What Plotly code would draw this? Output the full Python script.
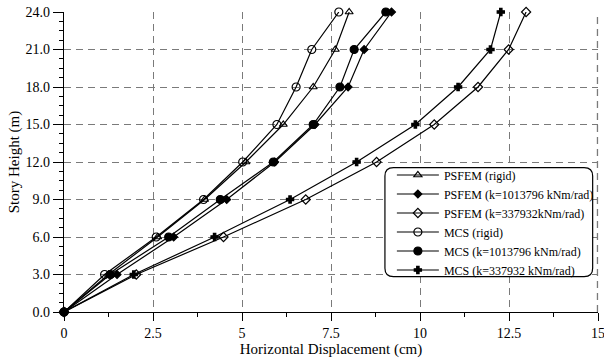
import plotly.graph_objects as go

heights = [0, 3, 6, 9, 12, 15, 18, 21, 24]
psfem_rigid = [0, 1.25, 2.63, 3.95, 5.11, 6.16, 7.00, 7.62, 8.01]
psfem_k1 = [0, 1.49, 3.08, 4.57, 5.92, 7.05, 7.98, 8.43, 9.20]
psfem_k2 = [0, 2.03, 4.48, 6.79, 8.78, 10.40, 11.63, 12.49, 12.98]
mcs_rigid = [0, 1.14, 2.59, 3.92, 5.02, 5.98, 6.52, 6.96, 7.72]
mcs_k1 = [0, 1.30, 2.94, 4.39, 5.88, 7.00, 7.75, 8.15, 9.04]
mcs_k2 = [0, 1.96, 4.23, 6.35, 8.22, 9.87, 11.07, 11.98, 12.27]
x_ticks = [0, 2.5, 5, 7.5, 10, 12.5, 15]
x_labels = ["0", "2.5", "5", "7.5", "10", "12.5", "15"]

names = ["PSFEM (rigid)", "PSFEM (k=1013796 kNm/rad)", "PSFEM (k=337932kNm/rad)",
         "MCS (rigid)", "MCS (k=1013796 kNm/rad)", "MCS (k=337932 kNm/rad)"]
series = [psfem_rigid, psfem_k1, psfem_k2, mcs_rigid, mcs_k1, mcs_k2]
symbols = ["triangle-up-open", "diamond", "diamond-open", "circle-open", "circle", "cross"]
sizes = [7, 6, 7, 8, 8, 6]

FONT = "Liberation Serif, Times New Roman, Tinos, serif"
fig = go.Figure()
for n, s, sym, sz in zip(names, series, symbols, sizes):
    fig.add_trace(go.Scatter(
        x=s, y=heights, name=n, mode="lines+markers",
        line=dict(color="black", width=1.2),
        marker=dict(symbol=sym, size=sz, color="black",
                    line=dict(color="black", width=1.2)),
        cliponaxis=False,
    ))

x0, x1 = 0.601, 0.990
y0, y1 = 0.118, 0.481
rx, ry = 0.016, 0.028
path = (f"M {x0+rx},{y1} L {x1-rx},{y1} Q {x1},{y1} {x1},{y1-ry} "
        f"L {x1},{y0+ry} Q {x1},{y0} {x1-rx},{y0} L {x0+rx},{y0} "
        f"Q {x0},{y0} {x0},{y0+ry} L {x0},{y1-ry} Q {x0},{y1} {x0+rx},{y1} Z")

grid_style = dict(color="#7a7a7a", width=1.3, dash="7px,5px")

fig.update_layout(
    width=604, height=363,
    margin=dict(l=63.5, r=5.5, t=12.3, b=50.7),
    plot_bgcolor="white", paper_bgcolor="white",
    font=dict(family=FONT, size=14, color="black"),
    showlegend=True,
    legend=dict(x=0.614, y=0.505, xanchor="left", yanchor="top",
                bgcolor="rgba(0,0,0,0)", borderwidth=0,
                font=dict(family=FONT, size=12), tracegroupgap=0,
                itemwidth=42),
    shapes=[
        dict(type="line", x0=0.999, x1=0.999, y0=0, y1=1, xref="paper", yref="paper",
             line=grid_style, layer="below"),
        dict(type="path", path=path, xref="paper", yref="paper",
             fillcolor="white", line=dict(color="black", width=1.2),
             layer="above"),
    ],
    xaxis=dict(range=[0, 15], tickvals=x_ticks, ticktext=x_labels,
               ticklabeloverflow="allow", automargin=False,
               showline=True, linecolor="black", linewidth=1.3,
               ticks="outside", ticklen=8, tickcolor="black", tickwidth=1.3,
               showgrid=True, gridcolor="#7a7a7a", gridwidth=1.3, griddash="7px,5px",
               zeroline=False,
               minor=dict(dtick=1.25, tick0=0, ticks="outside", ticklen=4, tickcolor="black",
                          tickwidth=1.3, showgrid=False),
               title=dict(text="Horizontal Displacement (cm)", standoff=2,
                          font=dict(family=FONT, size=15)),
               tickfont=dict(family=FONT, size=14)),
    yaxis=dict(range=[0, 24], dtick=3, tick0=0, tickformat=".1f",
               ticklabeloverflow="allow", automargin=False,
               showline=True, linecolor="black", linewidth=1.3,
               ticks="outside", ticklen=10, tickcolor="black", tickwidth=1.3,
               showgrid=True, gridcolor="#7a7a7a", gridwidth=1.3, griddash="7px,5px",
               zeroline=False,
               minor=dict(dtick=0.75, tick0=0, ticks="outside", ticklen=4, tickcolor="black",
                          tickwidth=1.3, showgrid=False),
               title=dict(text="Story Height (m)", standoff=2,
                          font=dict(family=FONT, size=15)),
               tickfont=dict(family=FONT, size=14)),
)

fig.write_html("out.html")
